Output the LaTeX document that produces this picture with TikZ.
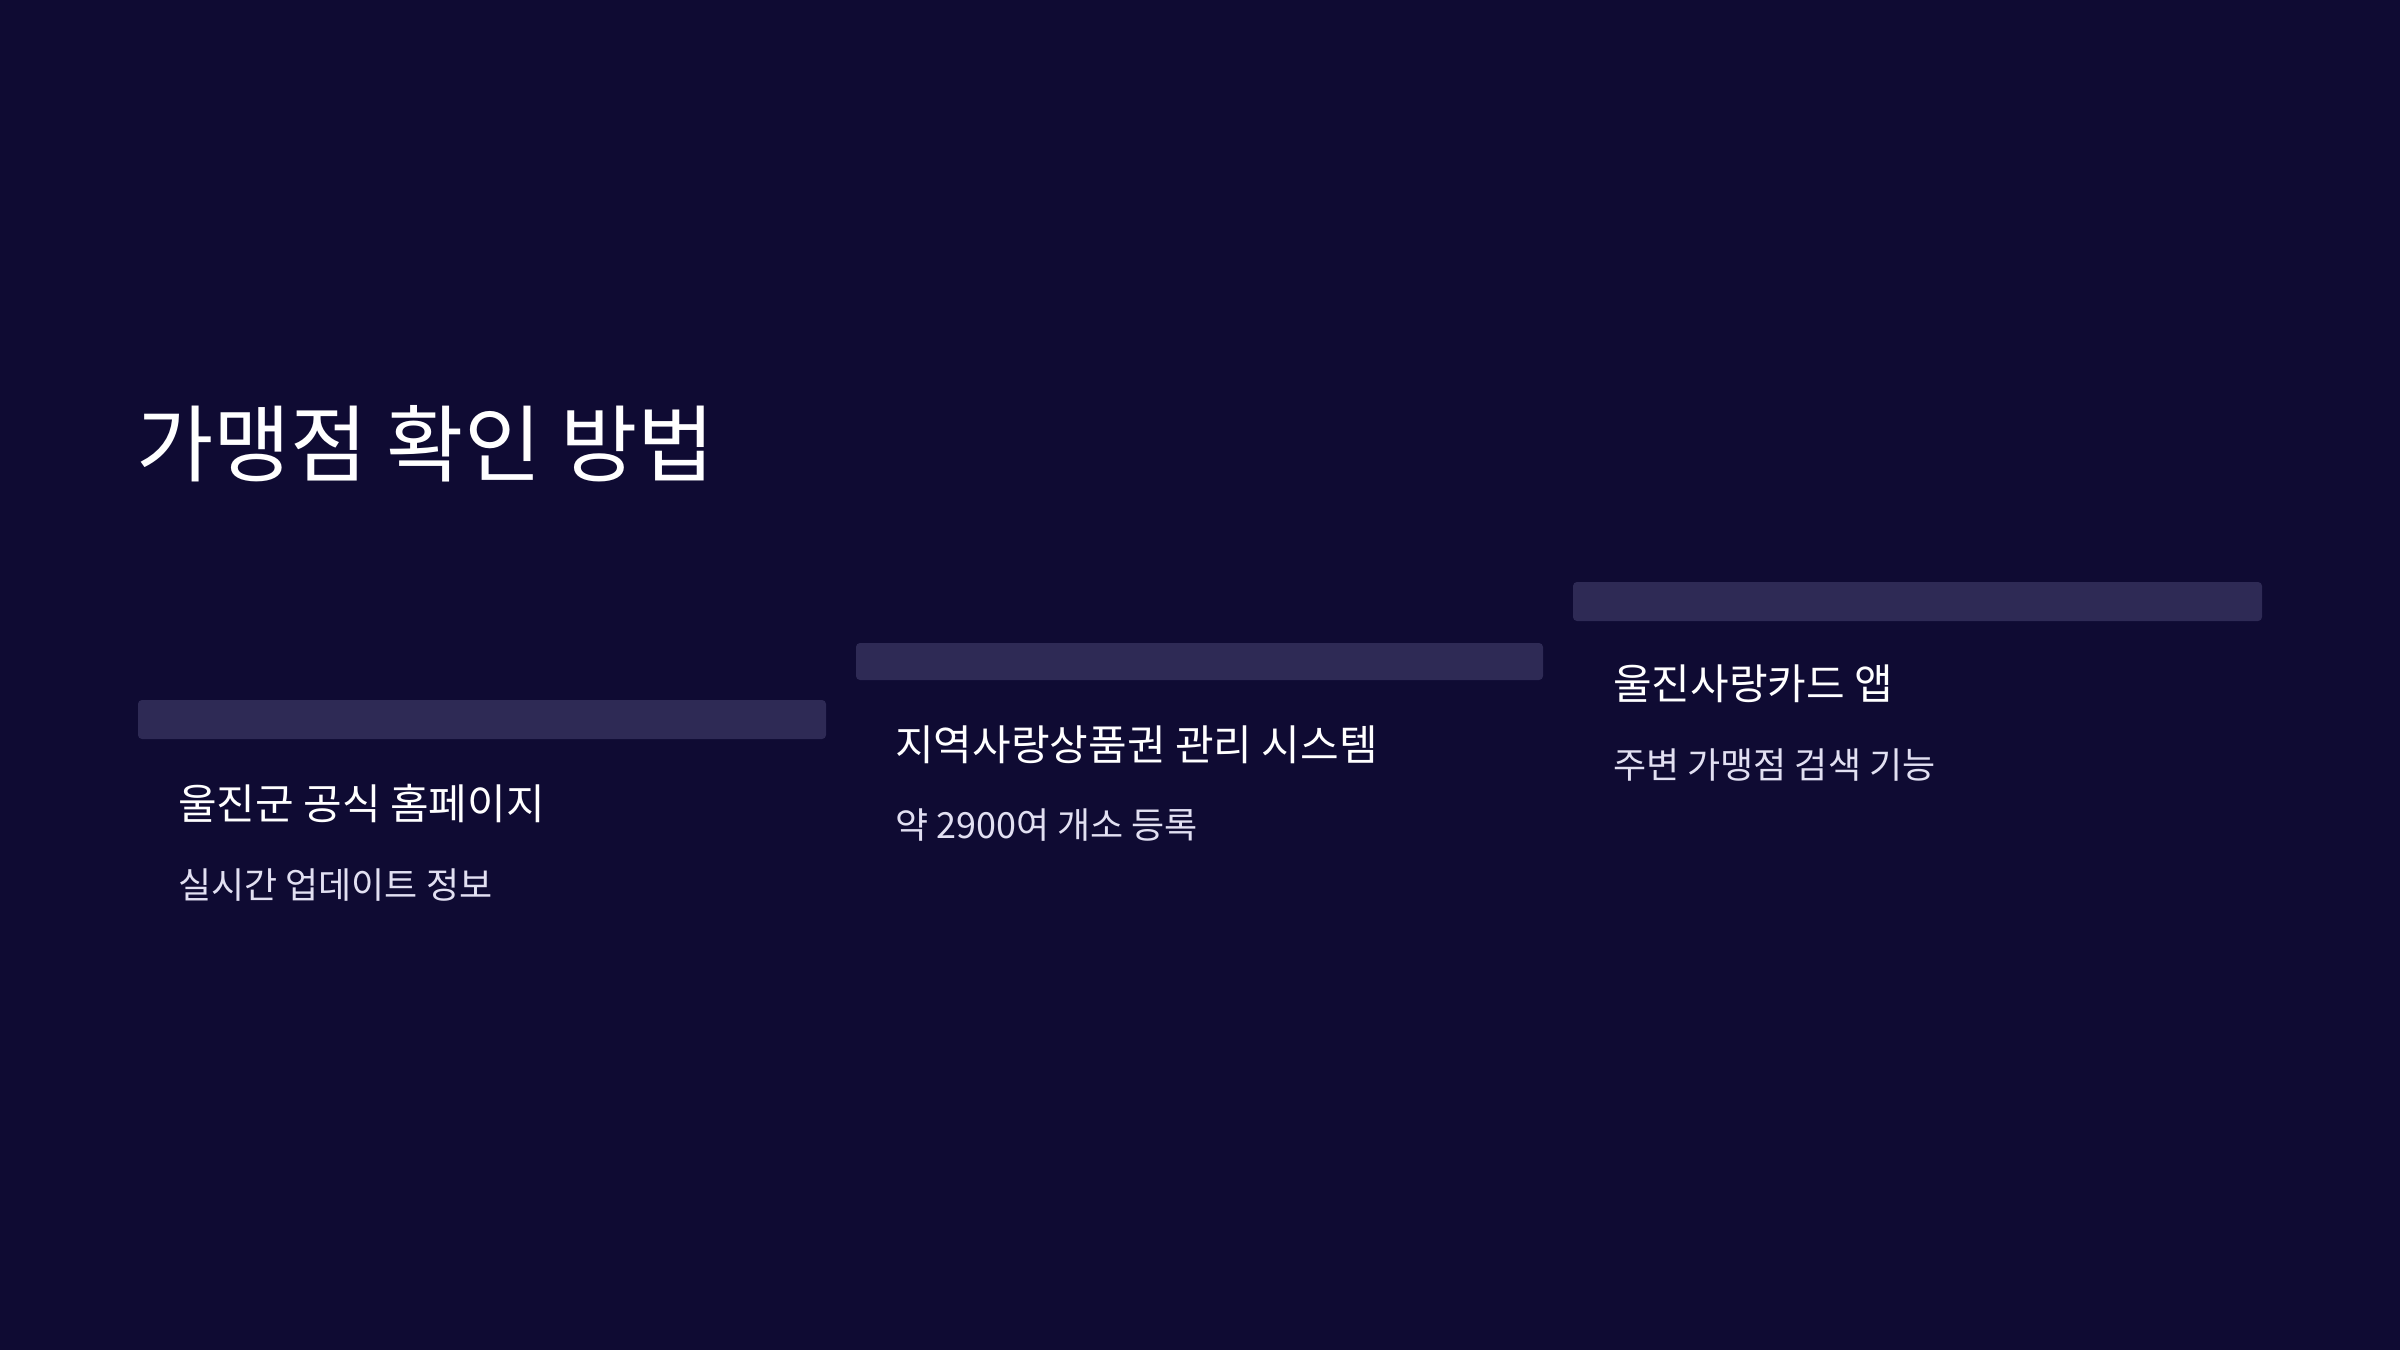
\documentclass[tikz,border=0pt]{standalone}
\usepackage{fontspec}
\setmainfont{Noto Sans CJK KR}
\definecolor{bg}{HTML}{0F0B33}
\definecolor{barc}{HTML}{2E2A55}
\definecolor{subc}{HTML}{E2E0F2}
\begin{document}
\begin{tikzpicture}[x=1pt,y=-1pt,
  bar/.style={fill=barc,rounded corners=4pt},
  head/.style={anchor=west,text=white,inner sep=0pt,font=\fontsize{42}{50}\selectfont},
  sub/.style={anchor=west,text=subc,inner sep=0pt,font=\fontsize{36}{44}\selectfont}]
\fill[bg] (0,0) rectangle (2400,1350);
\useasboundingbox (0,0) rectangle (2400,1350);
\node[anchor=west,text=white,inner sep=0pt,font=\fontsize{84}{100}\selectfont] (title) at (136,444) {가맹점 확인 방법};
\fill[bar] (138,700) rectangle (826,739);
\fill[bar] (856,643) rectangle (1543,680);
\fill[bar] (1573,582) rectangle (2262,621);
\node[head] (h1) at (178,804) {울진군 공식 홈페이지};
\node[sub] (s1) at (178,885) {실시간 업데이트 정보};
\node[head] (h2) at (895,745) {지역사랑상품권 관리 시스템};
\node[sub] (s2) at (895,825) {약 2900여 개소 등록};
\node[head] (h3) at (1613,684) {울진사랑카드 앱};
\node[sub] (s3) at (1613,765) {주변 가맹점 검색 기능};
\end{tikzpicture}
\end{document}
